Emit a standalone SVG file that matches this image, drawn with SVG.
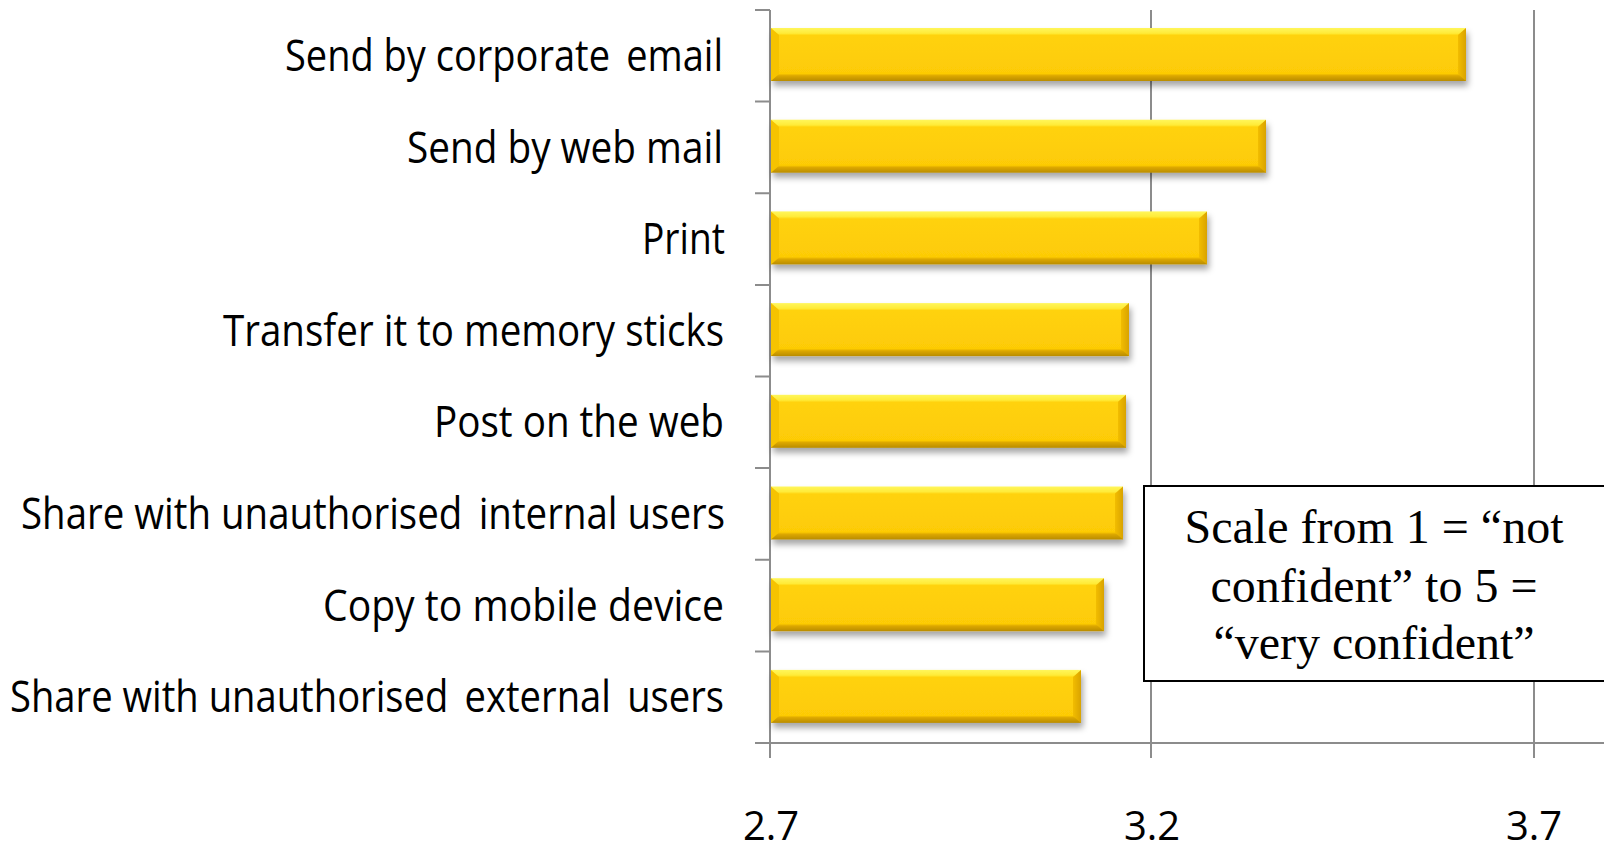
<svg xmlns="http://www.w3.org/2000/svg" width="1604" height="850" viewBox="0 0 1604 850">
  <defs>
    <linearGradient id="barBody" x1="0" y1="0" x2="0" y2="1">
      <stop offset="0" stop-color="#FFF65C"/>
      <stop offset="0.1" stop-color="#FFEB38"/>
      <stop offset="0.14" stop-color="#FFD20C"/>
      <stop offset="0.86" stop-color="#FDCB06"/>
      <stop offset="0.9" stop-color="#DDA800"/>
      <stop offset="1" stop-color="#B98C00"/>
    </linearGradient>
    <linearGradient id="barEnd" x1="0" y1="0" x2="1" y2="0">
      <stop offset="0" stop-color="#F2BD00"/>
      <stop offset="1" stop-color="#D9A300"/>
    </linearGradient>
    <filter id="barShadow" x="-5%" y="-20%" width="115%" height="160%">
      <feDropShadow dx="2" dy="5" stdDeviation="3" flood-color="#000" flood-opacity="0.35"/>
    </filter>
  </defs>
  <style>
    .grid { stroke: #8C8C8C; stroke-width: 2; fill: none; }
    .label { font-family: "Open Sans", "Liberation Sans", sans-serif; font-size: 43px; fill: #000; text-anchor: end; }
    .tick { font-family: "Open Sans", "Liberation Sans", sans-serif; font-size: 40px; fill: #000; text-anchor: middle; }
    .note { font-family: "Liberation Serif", "Times New Roman", serif; font-size: 48px; fill: #000; text-anchor: middle; }
    .leftFace { fill: #F6C300; }
    .rightFace { fill: url(#barEnd); }
  </style>

  <rect width="1604" height="850" fill="#FFFFFF"/>

  <!-- axes, gridlines and ticks -->
  <g id="axes">
    <line class="grid" x1="1151" y1="10" x2="1151" y2="758"/>
    <line class="grid" x1="1534" y1="10" x2="1534" y2="758"/>
    <line class="grid" x1="770" y1="10" x2="770" y2="758"/>
    <line class="grid" x1="755" y1="743" x2="1604" y2="743"/>
    <path class="grid" d="M755 10H770 M755 101.6H770 M755 193.2H770 M755 284.9H770 M755 376.5H770 M755 468.1H770 M755 559.7H770 M755 651.4H770"/>
  </g>

  <!-- bars -->
  <g id="bars" filter="url(#barShadow)">
    <g id="bar-corporate-email">
      <rect x="771" y="28" width="695" height="53" fill="url(#barBody)"/>
      <polygon class="leftFace" points="771,28 779,35 779,74 771,81"/>
      <polygon class="rightFace" points="1458,35 1466,28 1466,81 1458,74"/>
    </g>
    <g id="bar-web-mail">
      <rect x="771" y="119.7" width="495" height="53" fill="url(#barBody)"/>
      <polygon class="leftFace" points="771,119.7 779,126.7 779,165.7 771,172.7"/>
      <polygon class="rightFace" points="1258,126.7 1266,119.7 1266,172.7 1258,165.7"/>
    </g>
    <g id="bar-print">
      <rect x="771" y="211.4" width="436" height="53" fill="url(#barBody)"/>
      <polygon class="leftFace" points="771,211.4 779,218.4 779,257.4 771,264.4"/>
      <polygon class="rightFace" points="1199,218.4 1207,211.4 1207,264.4 1199,257.4"/>
    </g>
    <g id="bar-memory-sticks">
      <rect x="771" y="303.1" width="358" height="53" fill="url(#barBody)"/>
      <polygon class="leftFace" points="771,303.1 779,310.1 779,349.1 771,356.1"/>
      <polygon class="rightFace" points="1121,310.1 1129,303.1 1129,356.1 1121,349.1"/>
    </g>
    <g id="bar-post-web">
      <rect x="771" y="394.8" width="355" height="53" fill="url(#barBody)"/>
      <polygon class="leftFace" points="771,394.8 779,401.8 779,440.8 771,447.8"/>
      <polygon class="rightFace" points="1118,401.8 1126,394.8 1126,447.8 1118,440.8"/>
    </g>
    <g id="bar-internal-users">
      <rect x="771" y="486.5" width="352" height="53" fill="url(#barBody)"/>
      <polygon class="leftFace" points="771,486.5 779,493.5 779,532.5 771,539.5"/>
      <polygon class="rightFace" points="1115,493.5 1123,486.5 1123,539.5 1115,532.5"/>
    </g>
    <g id="bar-mobile-device">
      <rect x="771" y="578.2" width="333" height="53" fill="url(#barBody)"/>
      <polygon class="leftFace" points="771,578.2 779,585.2 779,624.2 771,631.2"/>
      <polygon class="rightFace" points="1096,585.2 1104,578.2 1104,631.2 1096,624.2"/>
    </g>
    <g id="bar-external-users">
      <rect x="771" y="669.9" width="310" height="53" fill="url(#barBody)"/>
      <polygon class="leftFace" points="771,669.9 779,676.9 779,715.9 771,722.9"/>
      <polygon class="rightFace" points="1073,676.9 1081,669.9 1081,722.9 1073,715.9"/>
    </g>
  </g>

  <!-- category labels -->
  <g id="labels">
    <text class="label" x="723" y="71" textLength="438" lengthAdjust="spacingAndGlyphs">Send by corporate&#8201; email</text>
    <text class="label" x="723" y="162.6" textLength="316" lengthAdjust="spacingAndGlyphs">Send by web mail</text>
    <text class="label" x="725" y="254.2" textLength="83" lengthAdjust="spacingAndGlyphs">Print</text>
    <text class="label" x="724" y="345.8" textLength="501" lengthAdjust="spacingAndGlyphs">Transfer it to memory sticks</text>
    <text class="label" x="724" y="437.4" textLength="290" lengthAdjust="spacingAndGlyphs">Post on the web</text>
    <text class="label" x="725" y="529" textLength="704" lengthAdjust="spacingAndGlyphs">Share with unauthorised&#8201; internal users</text>
    <text class="label" x="724" y="620.6" textLength="401" lengthAdjust="spacingAndGlyphs">Copy to mobile device</text>
    <text class="label" x="724" y="712.2" textLength="714" lengthAdjust="spacingAndGlyphs">Share with unauthorised&#8201; external&#8201; users</text>
  </g>

  <!-- value axis labels -->
  <g id="value-labels">
    <text class="tick" x="771" y="840">2.7</text>
    <text class="tick" x="1152" y="840">3.2</text>
    <text class="tick" x="1534" y="840">3.7</text>
  </g>

  <!-- scale note -->
  <g id="scale-note">
    <rect x="1144" y="486" width="470" height="195" fill="#FFFFFF" stroke="#000000" stroke-width="2"/>
    <text class="note" x="1374" y="543">Scale from 1 = “not</text>
    <text class="note" x="1374" y="602">confident” to 5 =</text>
    <text class="note" x="1374" y="659">“very confident”</text>
  </g>
</svg>
